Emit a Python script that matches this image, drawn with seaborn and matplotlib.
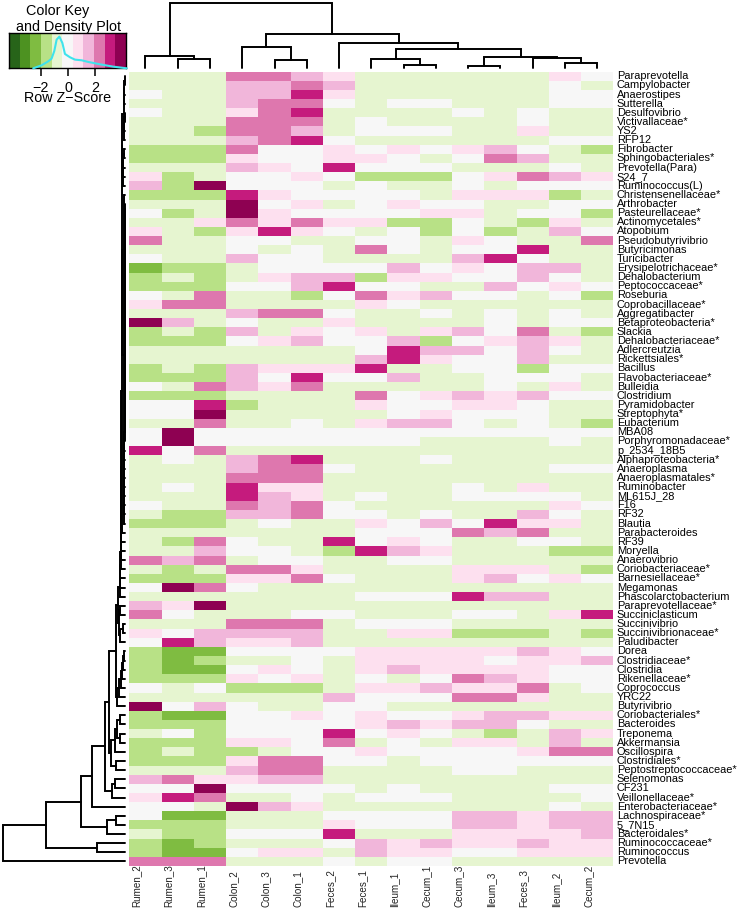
import matplotlib
matplotlib.use("Agg")
import matplotlib.pyplot as plt
from matplotlib.colors import ListedColormap
from matplotlib.transforms import ScaledTranslation
import numpy as np
import pandas as pd
import seaborn as sns

W_PX, H_PX = 745, 911

samples = ["Rumen_2", "Rumen_3", "Rumen_1", "Colon_2", "Colon_3", "Colon_1", "Feces_2", "Feces_1",
           "Ileum_1", "Cecum_1", "Cecum_3", "Ileum_3", "Feces_3", "Ileum_2", "Cecum_2"]

taxa = ["Paraprevotella", "Campylobacter", "Anaerostipes", "Sutterella", "Desulfovibrio", "Victivallaceae*",
        "YS2", "RFP12", "Fibrobacter", "Sphingobacteriales*", "Prevotella(Para)", "S24_7", "Ruminococcus(L)",
        "Christensenellaceae*", "Arthrobacter", "Pasteurellaceae*", "Actinomycetales*", "Atopobium",
        "Pseudobutyrivibrio", "Butyricimonas", "Turicibacter", "Erysipelotrichaceae*", "Dehalobacterium",
        "Peptococcaceae*", "Roseburia", "Coprobacillaceae*", "Aggregatibacter", "Betaproteobacteria*", "Slackia",
        "Dehalobacteriaceae*", "Adlercreutzia", "Rickettsiales*", "Bacillus", "Flavobacteriaceae*", "Bulleidia",
        "Clostridium", "Pyramidobacter", "Streptophyta*", "Eubacterium", "MBA08", "Porphyromonadaceae*",
        "p_2534_18B5", "Alphaproteobacteria*", "Anaeroplasma", "Anaeroplasmatales*", "Ruminobacter", "ML615J_28",
        "F16", "RF32", "Blautia", "Parabacteroides", "RF39", "Moryella", "Anaerovibrio", "Coriobacteriaceae*",
        "Barnesiellaceae*", "Megamonas", "Phascolarctobacterium", "Paraprevotellaceae*", "Succiniclasticum",
        "Succinivibrio", "Succinivibrionaceae*", "Paludibacter", "Dorea", "Clostridiaceae*", "Clostridia",
        "Rikenellaceae*", "Coprococcus", "YRC22", "Butyrivibrio", "Coriobacteriales*", "Bacteroides", "Treponema",
        "Akkermansia", "Oscillospira", "Clostridiales*", "Peptostreptococcaceae*", "Selenomonas", "CF231",
        "Veillonellaceae*", "Enterobacteriaceae*", "Lachnospiraceae*", "5_7N15", "Bacteroidales*",
        "Ruminococcaceae*", "Ruminococcus", "Prevotella"]

# colour-bin level of every cell (-5 … +5)
levels = [
    [-1,-1,-1, 3, 3, 2, 1,-1,-1,-1,-1,-1,-1, 1, 0],
    [-1,-1,-1, 2, 2, 3, 2,-1,-1,-1,-1,-1,-1, 0,-1],
    [ 0,-1,-1, 2, 2, 4, 1,-1,-1,-1,-1,-1,-1, 0, 0],
    [-1,-1,-1, 2, 3, 3, 0,-1, 0, 0,-1,-1,-1, 0, 0],
    [ 0,-1,-1, 1, 3, 4,-1,-1,-1,-1, 0,-1, 0,-1,-1],
    [-1,-1,-1, 3, 3, 3,-1, 0,-1,-1,-1,-1, 0,-1,-1],
    [-1,-1,-2, 3, 3, 2,-1, 0, 0, 0,-1,-1, 1,-1,-1],
    [-1,-1,-1, 2, 3, 4, 0,-1,-1,-1,-1,-1,-1, 0, 0],
    [-2,-2,-2, 3, 0, 0, 1, 0, 1, 0, 1, 2, 0,-1,-2],
    [-2,-2,-2, 1, 0, 0, 1, 1, 0,-1, 0, 3, 2,-1,-1],
    [-1,-1,-1, 2, 1, 0, 4, 0, 0, 0,-1,-1,-1, 0,-1],
    [ 1,-2,-1, 0, 0, 1, 0,-2,-2,-2, 0, 1, 3, 2, 1],
    [ 2,-2, 5, 0, 0, 0,-1, 0,-1,-1, 0,-1, 0, 0, 0],
    [-2,-2,-2, 4, 1, 0, 0, 0, 0,-1, 1, 1, 1,-2,-1],
    [-1,-1,-1, 5, 0, 1,-1, 0, 1, 0, 0,-1,-1, 0, 0],
    [ 0,-2,-1, 5, 1, 0, 0, 0, 0, 1, 1,-1, 0, 0,-2],
    [-1,-1, 1, 3, 1, 3, 1, 1,-2,-2, 0,-1,-2, 1,-1],
    [ 1,-1,-2, 1, 4, 1, 0,-1, 0,-2, 0,-2,-1, 2, 0],
    [ 3,-1,-1, 0, 0,-1,-1, 0, 0,-1, 1, 0,-1,-1, 3],
    [-1,-1,-1, 0,-1, 0,-1, 3, 0,-1, 0, 0, 4,-1,-1],
    [ 0,-1,-1, 2, 0, 0,-1,-1,-1,-1, 2, 4, 0,-1,-1],
    [-3,-2,-2,-1, 0, 0, 0, 0, 2, 0, 1, 0, 2, 2,-1],
    [-2,-1,-2,-1, 1, 2, 2,-2, 1, 1, 0, 0, 2, 0,-1],
    [-2,-2,-2, 0, 0, 2, 4, 0, 0,-1,-1, 2, 0, 1, 0],
    [ 0,-1, 3,-1,-1,-2, 0, 3, 1, 2, 0, 0,-1, 0,-2],
    [ 1, 3, 3,-1,-1,-1,-1, 1, 0,-1,-1,-1,-1,-1,-1],
    [-1,-1,-1, 2, 3, 3, 0,-1,-1, 0,-1, 0,-1, 0,-1],
    [ 5, 2,-1, 0,-1,-1, 1,-1,-1,-1,-1, 0,-1, 0, 0],
    [-2,-1,-2, 2,-1, 1, 0, 1,-1, 1, 2, 0, 3,-1,-2],
    [-2,-2,-2, 0, 1, 2, 0, 0, 2,-2, 0, 1, 2, 1,-1],
    [-1,-1,-1,-1,-1,-1,-1, 0, 4, 2, 2, 0, 2, 0,-1],
    [-1,-1,-1,-1,-1,-1,-1, 2, 4, 1, 0, 0, 2,-1,-1],
    [-2,-1,-2, 2, 1, 1, 1, 4,-1,-1, 0, 0,-2, 0, 0],
    [-2,-2,-2, 2, 0, 4, 0, 0, 2,-1,-1, 0, 0, 0,-1],
    [ 0,-1, 3, 2, 1, 3,-1,-1,-1,-1,-1, 0,-1, 1,-1],
    [-2,-2,-2,-1,-1,-1,-1, 3, 0, 1, 2, 1, 2, 0, 0],
    [ 0, 0, 4,-2,-1,-1,-1, 1, 0, 0, 1, 1, 0,-1,-1],
    [ 0, 0, 5,-1,-1,-1,-1,-1, 0, 1, 0, 0, 0,-1,-1],
    [-1,-1, 3,-1,-1, 0,-1, 1, 2, 2, 0,-1, 0,-1,-2],
    [ 0, 5, 0, 0, 0, 0, 0, 0, 0, 0, 0, 0, 0, 0, 0],
    [ 0, 5, 0, 0, 0, 0, 0, 0, 0,-1,-1,-1,-1, 0,-1],
    [ 4, 0, 3,-1,-1,-1,-1,-1,-1,-1,-1,-1,-1,-1,-1],
    [-1, 0,-1, 2, 3, 4,-1,-1,-1, 0,-1,-1,-1,-1,-1],
    [-1,-1,-1, 2, 3, 3, 0,-1,-1,-1,-1,-1,-1, 0, 0],
    [-1,-1,-1, 3, 3, 3,-1,-1,-1,-1,-1,-1,-1,-1,-1],
    [-1, 0,-1, 4, 1, 1,-1,-1,-1,-1, 0,-1, 1,-1,-1],
    [-1,-1,-1, 4, 2, 1,-1, 0,-1,-1, 0, 0, 0, 0,-1],
    [ 0,-1,-1, 3, 2, 3, 0,-1,-1,-1,-1,-1,-1, 1, 0],
    [-1,-2,-2, 2, 2, 3, 0, 0,-1, 0,-1,-1, 2, 0,-1],
    [-2,-2,-2,-1, 0,-1,-1, 1, 0, 2, 0, 4, 1, 1,-1],
    [-1,-1,-1,-1,-1,-1,-1, 0, 0, 0, 3, 2, 3,-1,-1],
    [-1,-2, 3, 0,-1,-1, 4, 0, 1, 0,-1,-1, 0, 0,-1],
    [-1,-1, 2, 0, 0,-1,-2, 4, 2, 1,-1,-1,-1,-2,-2],
    [ 3, 2, 3,-1, 0, 0,-1,-1, 0, 0,-1,-1,-1,-1,-1],
    [-1,-2,-1, 3, 3, 1,-1,-1,-1,-1, 1, 1, 1,-1,-2],
    [-2,-2,-2, 1, 1, 3, 0,-1,-1,-1, 1, 2, 0, 1, 0],
    [ 0, 5, 3, 0,-1,-1,-1,-1,-1,-1,-1,-1,-1,-1,-1],
    [-1,-1,-1,-1,-1,-1,-1, 0, 0, 0, 4, 2, 2,-1,-1],
    [ 2, 1, 5,-1,-1,-1,-1,-1,-1,-1,-1,-1,-1,-1,-1],
    [ 3, 0,-1,-1,-1, 0, 0,-1,-1,-1, 0, 0,-1, 1, 4],
    [-1,-1,-1, 3, 3, 3,-1, 0, 0, 0,-1,-1,-1,-1,-1],
    [ 1, 0, 2, 2, 2, 2,-1,-1, 1, 1,-2,-2,-2,-1,-2],
    [ 0, 4, 2, 1, 1, 2,-1,-1,-1,-1,-1,-1,-1,-1,-1],
    [-2,-3,-3, 0, 0, 0, 0, 1, 1, 1, 1, 1, 2, 1, 0],
    [-2,-3,-2,-1,-1, 0,-1, 1, 1, 1, 1, 0, 1, 1, 2],
    [-2,-3,-3, 0, 1, 0,-1, 1, 2, 1, 1, 1, 1, 0, 0],
    [-2,-2,-2, 1, 0, 1,-1, 0,-1, 0, 3, 2, 1, 0, 0],
    [ 0,-1, 0,-2,-2,-2,-1, 1, 1, 2, 1, 1, 3,-1, 0],
    [-1,-1,-1,-1,-1,-1, 2, 0, 0, 0, 3, 3, 1,-1,-1],
    [ 5, 0, 2, 0,-1,-1, 0, 0,-1,-1,-1,-1,-1,-1,-1],
    [-2,-3,-3, 0, 0, 1, 0, 1, 0, 0, 1, 2, 2, 1, 1],
    [-2,-2,-2, 0, 0, 0, 0, 1, 2, 1, 2, 2, 0,-1,-1],
    [-1, 0,-2, 0, 0, 0, 4, 0, 1, 0,-1,-2,-1, 2, 1],
    [-2,-2,-2, 1, 1, 0, 3,-1, 0,-1, 1, 1,-1, 2,-1],
    [-2,-1,-2,-2,-1, 0, 0, 1, 0, 0, 0, 0, 1, 3, 3],
    [-2,-2,-2, 1, 3, 3, 0, 0,-1, 0, 0, 0, 0, 0, 0],
    [-1,-1,-1, 2, 3, 3,-1,-1,-1,-1, 0, 0,-1,-1,-1],
    [ 2, 3, 1, 1, 2, 2,-1,-1,-1,-1,-1,-1,-1,-1,-1],
    [ 0, 0, 5, 0, 0, 0, 0,-1, 0,-1,-1,-1,-1, 0, 0],
    [ 1, 4, 3,-1,-1, 0,-1, 0, 0, 0,-1,-1,-1,-1, 0],
    [ 0, 0,-1, 5, 2, 1,-1,-1,-1,-1,-1,-1,-1, 0,-1],
    [ 0,-3,-3,-1,-1,-1, 0, 0, 0, 0, 2, 2, 1, 2, 2],
    [-2,-2,-2,-1,-1,-1, 1, 0, 0, 0, 2, 2, 1, 2, 2],
    [-1,-2,-2, 0, 0, 0, 4,-1,-1,-1, 1, 1, 1, 1, 2],
    [-2,-3,-2,-1,-1,-1, 0, 2, 1, 2, 1, 1, 2, 1, 1],
    [-2,-3,-3, 0, 1, 1,-1, 2, 1, 1, 0, 0, 1, 1, 1],
    [ 3, 3, 3,-1,-1,-1, 0,-1, 0, 0,-1,-1,-1,-1,-1],
]

# the PiYG ramp of the colour key, low to high
key_colours = ["#276419", "#4D9221", "#7FBC41", "#B8E186", "#E6F5D0", "#F7F7F7",
               "#FDE0EF", "#F1B6DA", "#DE77AE", "#C51B7D", "#8E0152"]

density_z = [-2.54, -1.93, -1.44, -1.2, -1.0, -0.83, -0.63, -0.41, -0.22, 0.15, 0.51, 1.0, 1.49, 2.34, 3.3, 4.3]
density_y = [0.0, 0.09, 0.21, 0.29, 0.52, 0.86, 0.95, 0.76, 0.43, 0.33, 0.26, 0.24, 0.19, 0.12, 0.05, 0.0]
key_ticks = [-2, 0, 2]
key_range = (-4.29, 4.22)


def chain(heights):
    node = (heights[0], 0, 0)
    for h in heights[1:]:
        node = (h, node, 0)
    return node


# Row tree: (height, upper child, lower child); 0 is a leaf. Leaves follow the row order.
row_a = (3.0,
         (1.2, chain([0.5, 0.6, 0.7]), chain([0.5, 0.6, 0.8])),
         chain([1.5, 1.8, 2.0, 2.3]))
row_b = (0.9, 0, chain([0.3, 0.3, 0.3, 0.3, 0.3, 0.3, 0.3, 0.3, 0.3, 0.4, 0.4, 0.4,
                        0.4, 0.4, 0.4, 0.4, 0.4, 0.4, 0.5, 0.5, 0.5, 0.5, 0.5, 0.5,
                        0.5, 0.5, 0.6, 0.6, 0.6, 0.6, 0.6, 0.7, 0.7, 0.7, 0.8]))
row_spine = (3.3, row_a, row_b)
for h in [3.5, 3.7, 4.0, 4.2, 4.4, 4.6, 4.8, 5.0]:
    row_spine = (h, row_spine, 0)
row_v = (6.0, (5.0, 0, 0), (5.0, (2.3, 0, 0), 0))
row_u = (6.7, row_spine, row_v)
row_l = chain([1.5, 2.3, 3.2, 4.5, 5.8, 8.0])
row_g = (14.3, (10.0, (8.0, (5.0, 0, 0), (5.0, 0, 0)), 0), (9.3, 0, 0))
row_mid = (16.0, (9.3, row_u, row_l), row_g)
row_top = (33.0, (20.3, row_mid, (13.0, (10.0, 0, 0), 0)), 0)
row_tree = (121.7, (79.0, (44.3, row_top, (18.3, (9.3, 0, 0), 0)), (28.0, 0, 0)), 0)

# Column tree, same form
col_tree = (65.0,
            (12.7, 0, (9.3, 0, 0)),
            (34.0,
             (21.0, 0, (8.3, 0, 0)),
             (25.0,
              0,
              (19.3,
               (9.0, 0, (3.0, 0, 0)),
               (11.7, (2.3, 0, 0), (10.3, 0, (5.7, 0, 0)))))))


def draw_tree(ax, node, counter, horizontal):
    if node == 0:
        pos = counter[0] + 0.5
        counter[0] += 1
        return pos, 0.0
    h, a, b = node
    pa, ha = draw_tree(ax, a, counter, horizontal)
    pb, hb = draw_tree(ax, b, counter, horizontal)
    ps, hs = [pa, pa, pb, pb], [ha, h, h, hb]
    if horizontal:
        ax.plot(hs, ps, color="black", lw=1.4, solid_joinstyle="miter", clip_on=False)
    else:
        ax.plot(ps, hs, color="black", lw=1.4, solid_joinstyle="miter", clip_on=False)
    return (pa + pb) / 2, h


sns.set_theme(style="white")
plt.rcParams["font.family"] = ["Liberation Sans", "DejaVu Sans"]
plt.rcParams["axes.unicode_minus"] = True

fig = plt.figure(figsize=(W_PX / 100, H_PX / 100), dpi=100, facecolor="white")


def px_axes(left, top, right, bottom):
    return fig.add_axes([left / W_PX, 1 - bottom / H_PX, (right - left) / W_PX, (bottom - top) / H_PX])


HX0, HX1, HY0, HY1 = 129.3, 613.3, 71.7, 866.0

# main heat map
frame = pd.DataFrame(levels, index=taxa, columns=samples)
ax = px_axes(HX0, HY0, HX1, HY1)
cmap = ListedColormap(key_colours)
sns.heatmap(frame, ax=ax, cmap=cmap, vmin=-5.5, vmax=5.5, cbar=False, linewidths=0,
            xticklabels=True, yticklabels=True)
ax.yaxis.tick_right()
ax.tick_params(axis="both", length=0)
ax.tick_params(axis="y", pad=2.6, labelsize=7.9, labelcolor="black")
ax.tick_params(axis="x", pad=29.5, labelsize=7.1, labelcolor="#222222")
for lab in ax.get_yticklabels():
    lab.set_rotation(0)
    lab.set_va("center")
    lab.set_ha("left")
shift = ScaledTranslation(-9 / 100, 0, fig.dpi_scale_trans)
for lab in ax.get_xticklabels():
    lab.set_rotation(90)
    lab.set_va("bottom")
    lab.set_ha("center")
    lab.set_transform(lab.get_transform() + shift)

# row dendrogram
ax_r = px_axes(0, HY0, 125, HY1)
counter = [0]
draw_tree(ax_r, row_tree, counter, True)
assert counter[0] == len(taxa)
ax_r.set_xlim(125, 0)
ax_r.set_ylim(len(taxa), 0)
ax_r.axis("off")

# column dendrogram
ax_c = px_axes(HX0, 0, HX1, 68.3)
counter = [0]
draw_tree(ax_c, col_tree, counter, False)
assert counter[0] == len(samples)
ax_c.set_xlim(0, len(samples))
ax_c.set_ylim(0, 68.3)
ax_c.axis("off")

# colour key
KX0, KY0, KX1, KY1 = 9.3, 33.3, 125.7, 68.3
ax_k = px_axes(KX0, KY0, KX1, KY1)
sns.heatmap(np.arange(-5, 6).reshape(1, -1), ax=ax_k, cmap=cmap, vmin=-5.5, vmax=5.5, cbar=False,
            xticklabels=False, yticklabels=False, linewidths=0)
ax_k.tick_params(length=0)

ax_d = px_axes(KX0, KY0, KX1, KY1)
ax_d.patch.set_alpha(0)
sns.lineplot(x=density_z, y=density_y, ax=ax_d, color="#3FE3EC", lw=1.5, clip_on=False, zorder=5)
ax_d.set_xlim(*key_range)
ax_d.set_ylim(0, 1.05)
ax_d.set_yticks([])
ax_d.set_xticks(key_ticks)
ax_d.set_xticklabels(["\u22122", "0", "2"], fontsize=10.3, color="black", linespacing=1)
ax_d.tick_params(axis="x", bottom=True, length=5.5, width=1.1, color="black", pad=3.5)
for s in ax_d.spines.values():
    s.set_visible(True)
    s.set_color("black")
    s.set_linewidth(1.0)
ax_d.set_xlabel("Row Z\u2212Score", fontsize=10.3, color="black", labelpad=-3)
ax_d.set_ylabel("")

fig.text(58 / W_PX, 1 - 11 / H_PX, "Color Key", ha="center", va="center", fontsize=10.4, color="black")
fig.text(68.5 / W_PX, 1 - 27 / H_PX, "and Density Plot", ha="center", va="center", fontsize=10.4, color="black")

fig.savefig("out.png", dpi=100, facecolor="white")
